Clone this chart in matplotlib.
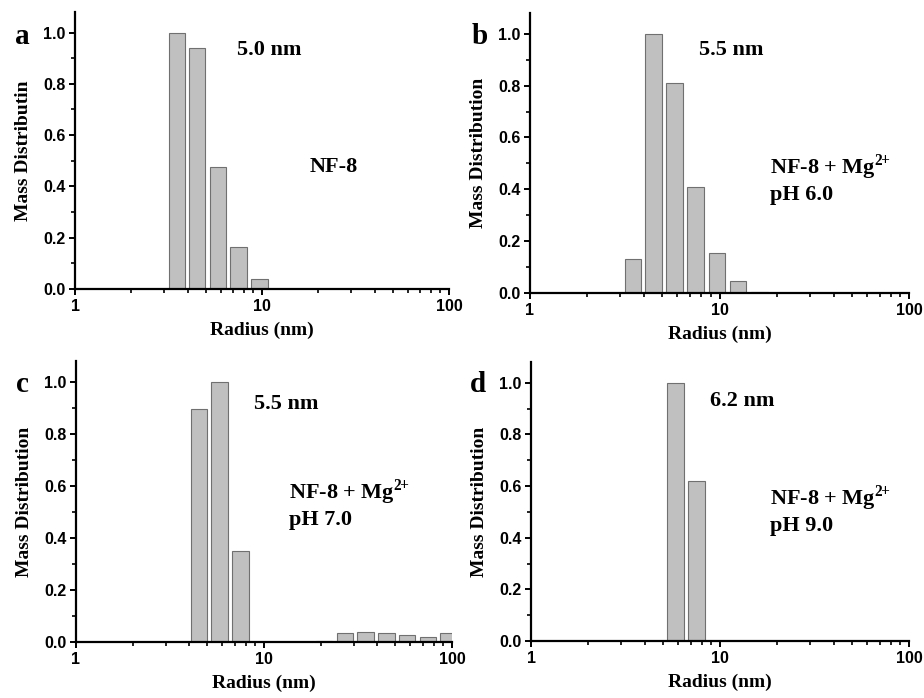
import numpy as np
import matplotlib.pyplot as plt
from matplotlib import font_manager
from matplotlib.ticker import MultipleLocator, LogLocator, NullFormatter

# bin centres (nm) on a log grid
centers_a = [3.5, 4.5, 5.8, 7.5, 9.7]
values_a = [1.0, 0.94, 0.475, 0.165, 0.04]

centers_b = [3.5, 4.5, 5.8, 7.5, 9.7, 12.5, 16.2]
values_b = [0.13, 1.0, 0.81, 0.41, 0.155, 0.045, 0.005]

centers_c = [4.5, 5.8, 7.5, 20.8, 26.9, 34.7, 44.7, 57.7, 74.5, 96.0]
values_c = [0.895, 1.0, 0.35, 0.005, 0.035, 0.04, 0.035, 0.025, 0.02, 0.035]

centers_d = [5.8, 7.5]
values_d = [1.0, 0.62]

letters = ['a', 'b', 'c', 'd']
ylabels = ['Mass Distributin', 'Mass Distribution', 'Mass Distribution', 'Mass Distribution']
peaks = ['5.0 nm', '5.5 nm', '5.5 nm', '6.2 nm']
samples = ['NF-8',
           'NF-8 + Mg$^{\\mathbf{2\\!\\!+}}$\npH 6.0',
           'NF-8 + Mg$^{\\mathbf{2\\!\\!+}}$\npH 7.0',
           'NF-8 + Mg$^{\\mathbf{2\\!\\!+}}$\npH 9.0']

W, H = 924, 698
plt.rcParams['mathtext.fontset'] = 'custom'
plt.rcParams['mathtext.bf'] = 'Liberation Serif:bold'
plt.rcParams['mathtext.rm'] = 'Liberation Serif:bold'
fig = plt.figure(figsize=(W / 100, H / 100), dpi=100)

# tick label font: regular-width Liberation Sans Bold
sans_file = font_manager.findfont(font_manager.FontProperties(
    family='Liberation Sans', weight='bold', stretch='normal'))
tick_font = font_manager.FontProperties(fname=sans_file, size=11.5)

# axes boxes in pixels: left, right, top, bottom
boxes = [(75, 449, 12, 289), (530, 909, 13, 293), (76, 452, 361, 642), (531, 909, 362, 641)]
# text positions in pixels
letter_pos = [(22, 36), (480, 36), (22, 385), (478, 384)]
peak_pos = [(237, 50), (699, 50), (254, 404), (710, 401)]
sample_pos = [(310, 167), (770, 179), (289, 504), (770, 510)]

data = [(centers_a, values_a), (centers_b, values_b), (centers_c, values_c), (centers_d, values_d)]
half = 10 ** 0.044

serif = 'Liberation Serif'

for i, (c, v) in enumerate(data):
    l, r, t, b = boxes[i]
    ax = fig.add_axes([l / W, 1 - b / H, (r - l) / W, (b - t) / H])
    c = np.array(c)
    lefts = c / half
    widths = c * half - lefts
    ax.bar(lefts, v, width=widths, align='edge', color='#c0c0c0',
           edgecolor='#707070', linewidth=0.8)
    ax.set_xscale('log')
    ax.set_xlim(1, 100)
    ax.set_ylim(0, 1.08)
    for s in ['top', 'right']:
        ax.spines[s].set_visible(False)
    for s in ['left', 'bottom']:
        ax.spines[s].set_linewidth(1.6)
    ax.yaxis.set_minor_locator(MultipleLocator(0.1))
    ax.xaxis.set_minor_locator(LogLocator(base=10, subs=np.arange(2, 10), numticks=20))
    ax.xaxis.set_minor_formatter(NullFormatter())
    ax.set_xticks([1, 10, 100])
    ax.set_xticklabels(['1', '10', '100'])
    ax.set_yticks([0.0, 0.2, 0.4, 0.6, 0.8, 1.0])
    ax.set_yticklabels(['0.0', '0.2', '0.4', '0.6', '0.8', '1.0'])
    ax.tick_params(which='major', direction='out', length=4, width=1.4, pad=3)
    ax.tick_params(which='minor', direction='out', length=3, width=1.2)
    for lab in ax.get_xticklabels() + ax.get_yticklabels():
        lab.set_fontproperties(tick_font)
    ax.set_xlabel('Radius (nm)', fontfamily=serif, fontweight='bold', fontsize=14, labelpad=6)
    ax.set_ylabel(ylabels[i], fontfamily=serif, fontweight='bold', fontsize=14, labelpad=8)

    lx, ly = letter_pos[i]
    fig.text(lx / W, 1 - ly / H, letters[i], fontfamily=serif, fontweight='bold',
             fontsize=21, ha='center', va='center')
    px, py = peak_pos[i]
    fig.text(px / W, 1 - py / H, peaks[i], fontfamily=serif, fontweight='bold',
             fontsize=16, ha='left', va='center')
    sx, sy = sample_pos[i]
    fig.text(sx / W, 1 - sy / H, samples[i], fontfamily=serif, fontweight='bold',
             fontsize=16, ha='left', va='center', linespacing=1.2)

fig.savefig('out.png', dpi=100)
